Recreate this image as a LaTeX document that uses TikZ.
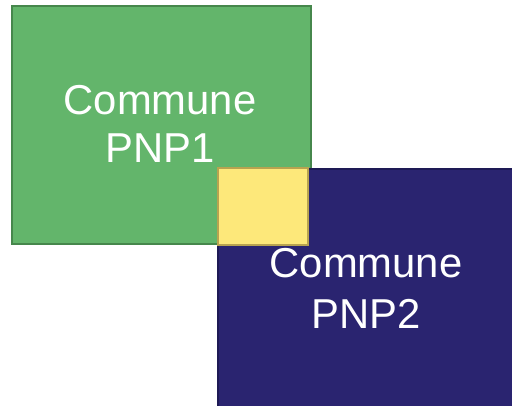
\documentclass[tikz,border=0pt]{standalone}
\usepackage{fontspec}
\setmainfont{Liberation Sans}
\definecolor{gfill}{HTML}{63B56B}
\definecolor{gline}{HTML}{46874C}
\definecolor{bfill}{HTML}{2A2470}
\definecolor{bline}{HTML}{1E1A55}
\definecolor{yfill}{HTML}{FDE87A}
\definecolor{yline}{HTML}{B8A350}
\begin{document}
\begin{tikzpicture}[x=1pt,y=-1pt,
  lbl/.style={text=white,font=\fontsize{41.8}{49}\selectfont,anchor=base,inner sep=0pt}]
\useasboundingbox (0,0) rectangle (512,406);
\fill[white] (0,0) rectangle (512,406);
\draw[fill=gfill,draw=gline,line width=1.5pt] (12,6) rectangle (311,244);
\draw[fill=bfill,draw=bline,line width=1.2pt] (218,169) rectangle (513,407);
\node[lbl] (g1) at (160,115) {Commune};
\node[lbl] (g2) at (160,163) {PNP1};
\node[lbl] (b1) at (366,278) {Commune};
\node[lbl] (b2) at (366,329) {PNP2};
\draw[fill=yfill,draw=yline,line width=2pt] (218,168) rectangle (308,245);
\end{tikzpicture}
\end{document}
